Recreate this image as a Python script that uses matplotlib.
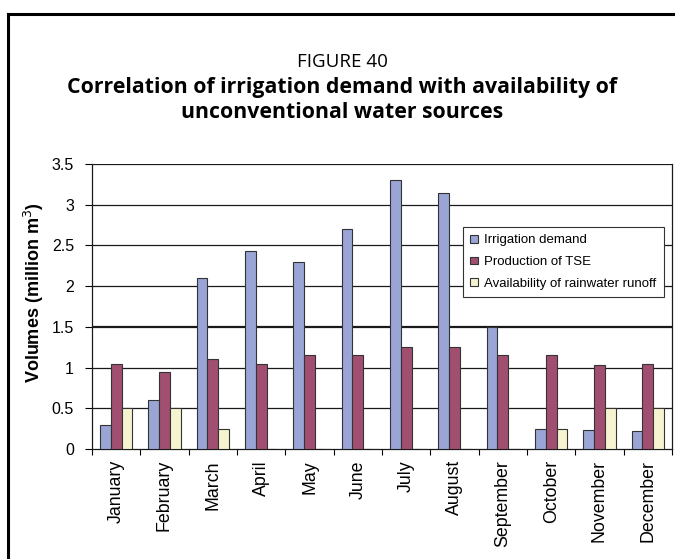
import numpy as np
import matplotlib.pyplot as plt
from matplotlib.lines import Line2D

months = ['January', 'February', 'March', 'April', 'May', 'June', 'July',
          'August', 'September', 'October', 'November', 'December']
irrigation = [0.3, 0.6, 2.1, 2.43, 2.3, 2.7, 3.3, 3.15, 1.5, 0.25, 0.23, 0.22]
tse = [1.05, 0.95, 1.1, 1.05, 1.15, 1.15, 1.25, 1.25, 1.15, 1.15, 1.03, 1.05]
runoff = [0.5, 0.5, 0.25, 0, 0, 0, 0, 0, 0, 0.25, 0.5, 0.5]
series_names = ['Irrigation demand', 'Production of TSE', 'Availability of rainwater runoff']
colors = ['#9aa5d6', '#a04f70', '#f6f4d0']

W, H = 675, 559
fig = plt.figure(figsize=(W / 100, H / 100), dpi=100)

# frame round the whole figure (only left and top edges fall inside the image)
fig.add_artist(Line2D([8 / W, 8 / W], [0, 1 - 14 / H], transform=fig.transFigure, color='black', lw=2.2))
fig.add_artist(Line2D([8 / W, 1], [1 - 14 / H, 1 - 14 / H], transform=fig.transFigure, color='black', lw=2.2))

tf = 'Open Sans'
cx = 342 / W
fig.text(cx, 1 - 67 / H, 'FIGURE 40', ha='center', va='baseline', fontsize=13.5, family=tf)
fig.text(cx, 1 - 93 / H, 'Correlation of irrigation demand with availability of',
         ha='center', va='baseline', fontsize=15.3, family=tf, fontweight='bold')
fig.text(cx, 1 - 118 / H, 'unconventional water sources',
         ha='center', va='baseline', fontsize=15.3, family=tf, fontweight='bold')

left, right, top, bottom = 92, 672, 164, 449
ax = fig.add_axes([left / W, 1 - bottom / H, (right - left) / W, (bottom - top) / H])

x = np.arange(len(months))
bw = 0.222
for i, (vals, c) in enumerate(zip([irrigation, tse, runoff], colors)):
    ax.bar(x + (i - 1) * bw, vals, bw, color=c, edgecolor='#333333', linewidth=0.8,
           label=series_names[i], zorder=3)

ax.set_xlim(-0.5, len(months) - 0.5)
ax.set_ylim(0, 3.5)
yt = np.arange(0, 3.51, 0.5)
ax.set_yticks(yt)
ax.set_yticklabels(['0', '0.5', '1', '1.5', '2', '2.5', '3', '3.5'])
for v in yt[1:]:
    ax.axhline(v, color='#1a1a1a', lw=1.6 if v == 1.5 else 0.9, zorder=1)

ax.set_xticks(x)
ax.set_xticklabels(months, rotation=90, family='Liberation Sans', fontsize=12.8)
ax.set_xticks(np.arange(-0.5, len(months)), minor=True)
ax.tick_params(axis='x', which='major', length=0, pad=8)
ax.tick_params(axis='x', which='minor', length=4, width=0.8, direction='out')
ax.tick_params(axis='y', length=5, width=0.8, labelsize=11.5, pad=8)
for lab in ax.get_yticklabels():
    lab.set_family('Liberation Sans')

for s in ['left', 'bottom', 'right']:
    ax.spines[s].set_linewidth(0.9)
    ax.spines[s].set_color('#1a1a1a')
ax.spines['top'].set_visible(False)

ax.set_ylabel('Volumes (million m$^3$)', family='Liberation Sans', fontsize=13,
              fontweight='bold')
ax.yaxis.set_label_coords((46 - left) / (right - left), 0.55)

leg = ax.legend(loc='upper left', bbox_to_anchor=((463 - left) / (right - left), 1 - (227 - top) / (bottom - top)),
                prop={'family': 'Liberation Sans', 'size': 9.5}, frameon=True, fancybox=False,
                edgecolor='#333333', framealpha=1, handlelength=0.55, handleheight=0.55,
                handletextpad=0.5, labelspacing=0.75, borderpad=0.55, borderaxespad=0)
leg.get_frame().set_linewidth(0.8)
leg.set_zorder(5)

fig.savefig('out.png', dpi=100)
